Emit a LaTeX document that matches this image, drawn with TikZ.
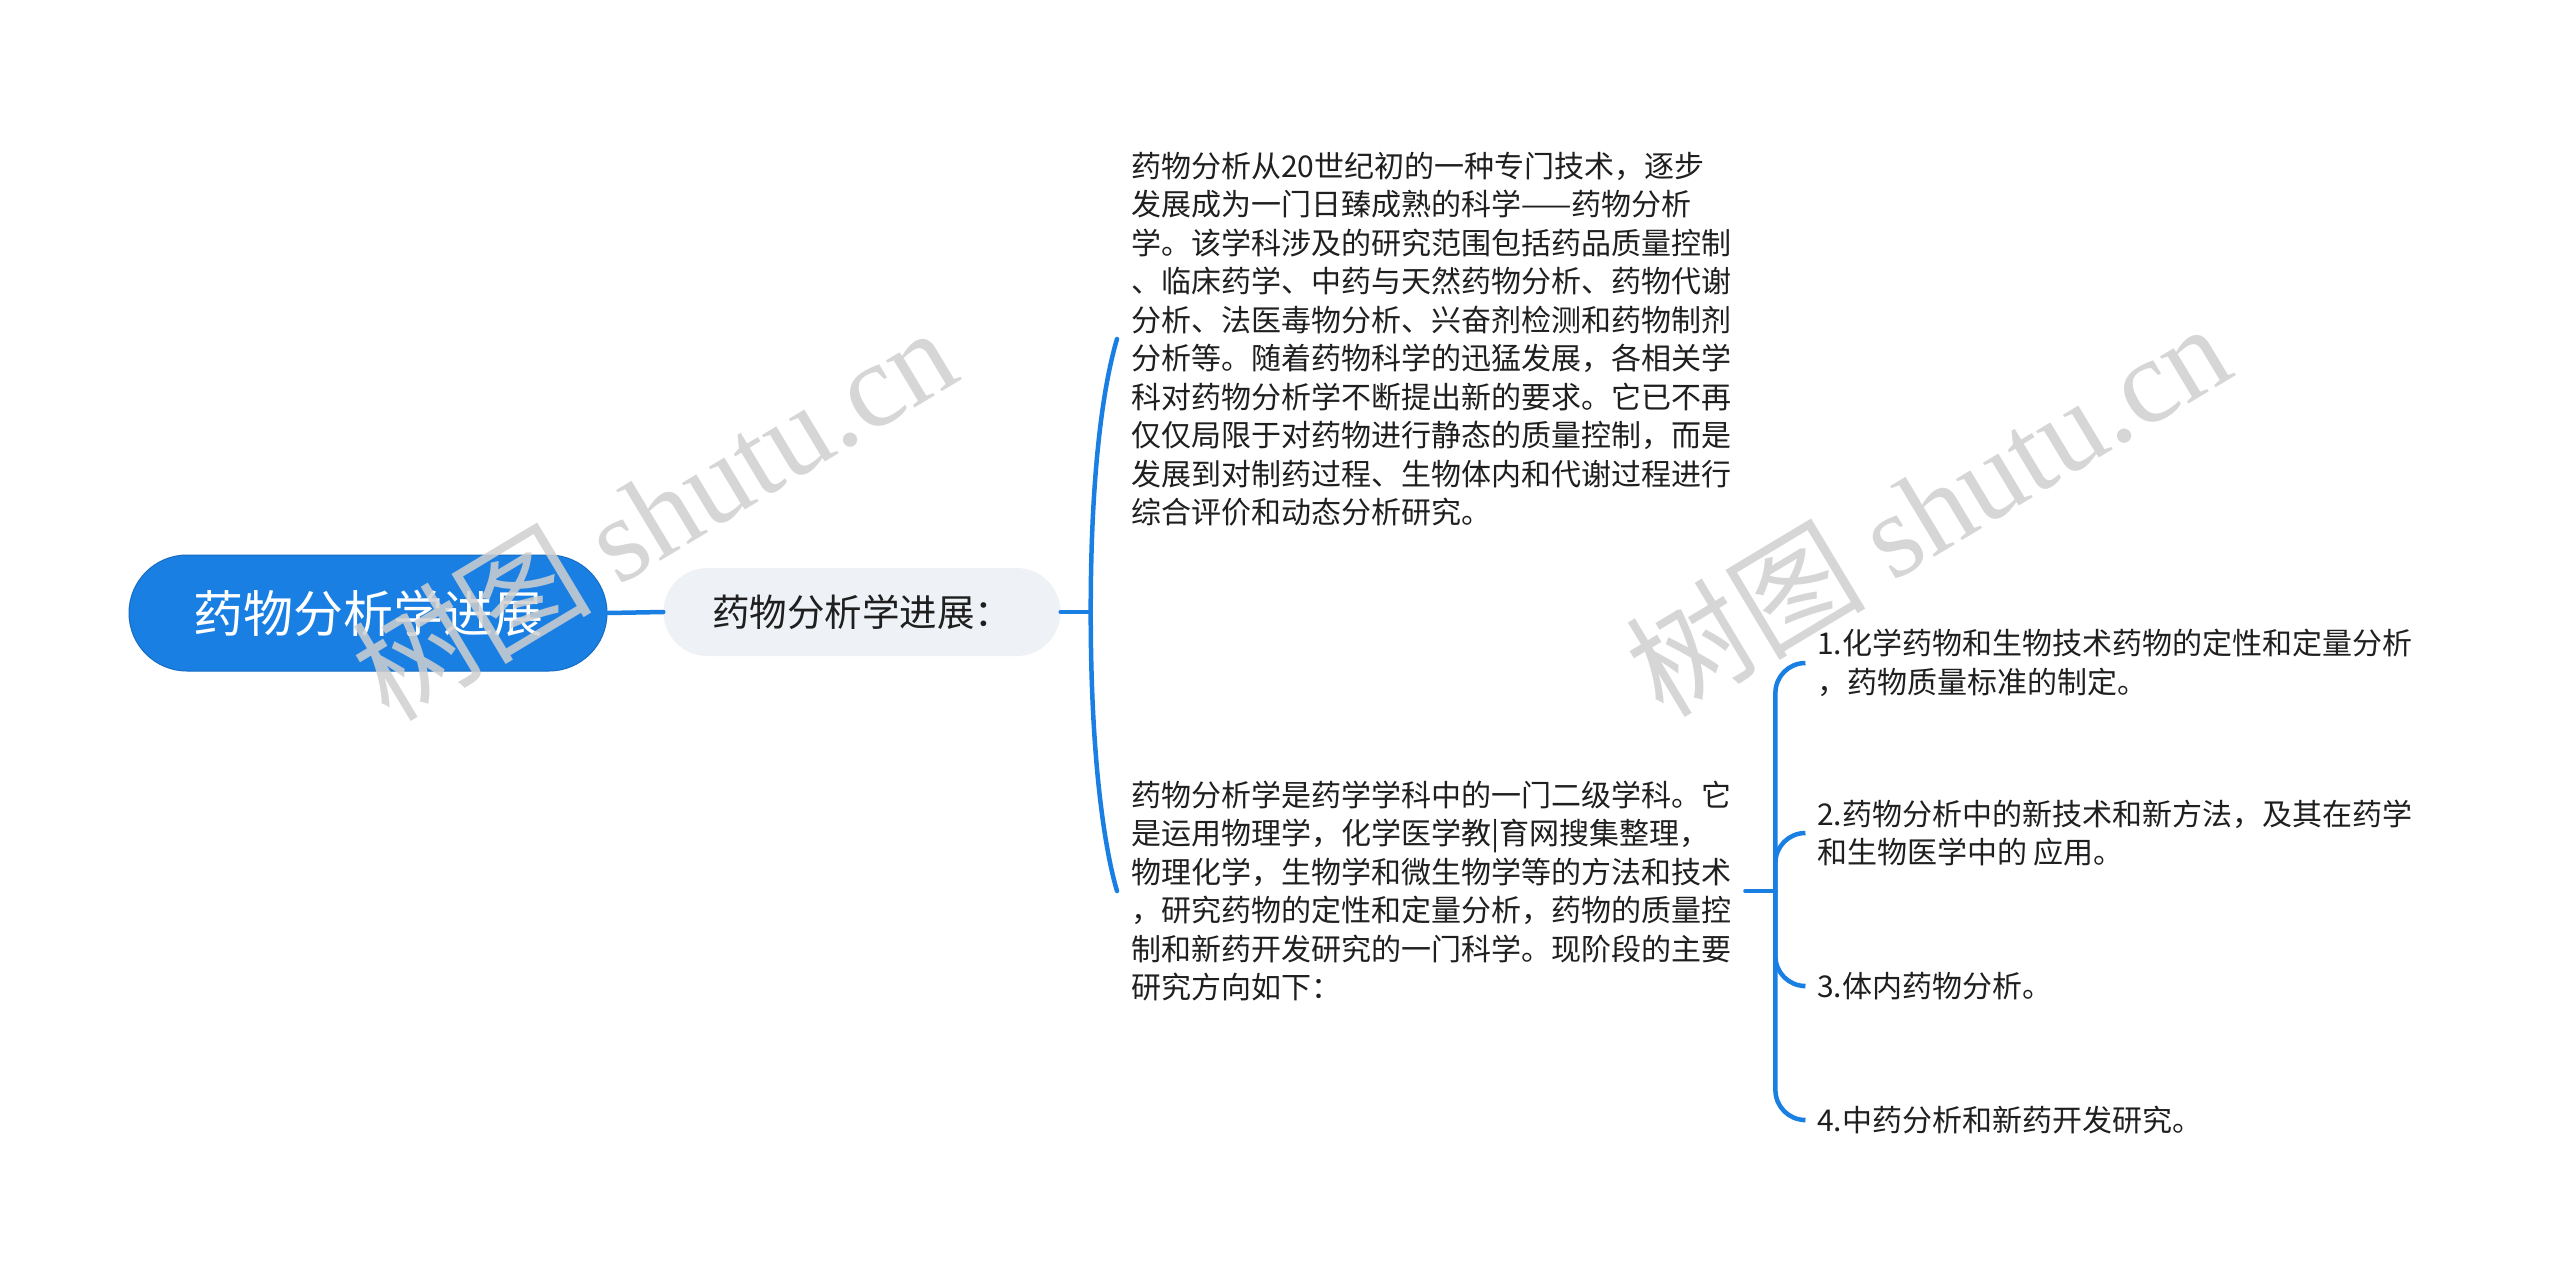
\documentclass[tikz,border=0pt]{standalone}
\usepackage{fontspec}
\setmainfont{Noto Sans CJK SC}
\newfontfamily\wmserif{Liberation Serif}
\usetikzlibrary{calc}
\definecolor{mainblue}{HTML}{1A7FE3}
\definecolor{subgray}{HTML}{EEF1F5}
\definecolor{txt}{HTML}{1F1F1F}
\definecolor{wmgray}{HTML}{CFCFCF}
\tikzset{
  rootbox/.style={fill=mainblue, draw=mainblue!85!black, line width=1pt, text=white,
    minimum width=478pt, minimum height=116pt, rounded corners=58pt,
    font=\fontsize{50}{60}\selectfont, inner sep=0pt},
  subbox/.style={fill=subgray, draw=none, text=txt,
    minimum width=397pt, minimum height=88pt, rounded corners=44pt,
    font=\fontsize{37.5}{44}\selectfont, inner sep=0pt},
  bodytext/.style={anchor=west, align=left, text=txt, inner sep=0pt,
    font=\fontsize{30}{38.5}\selectfont},
  conn/.style={draw=mainblue, line width=4.5pt, rounded corners=30pt, line cap=round},
  curveconn/.style={draw=mainblue, line width=4.5pt, line cap=round},
  wmark/.style={text=wmgray, rotate=31, inner sep=0pt, opacity=0.85},
}
\begin{document}
\begin{tikzpicture}[x=1pt,y=-1pt]
\fill[white] (0,0) rectangle (2560,1280);

% nodes
\node[rootbox] (root) at (368,613) {药物分析学进展};
\node[subbox] (sub) at (862,612) {药物分析学进展：};

\node[bodytext] (c1) at (1131,339) {药物分析从20世纪初的一种专门技术，逐步\\
发展成为一门日臻成熟的科学——药物分析\\
学。该学科涉及的研究范围包括药品质量控制\\
、临床药学、中药与天然药物分析、药物代谢\\
分析、法医毒物分析、兴奋剂检测和药物制剂\\
分析等。随着药物科学的迅猛发展，各相关学\\
科对药物分析学不断提出新的要求。它已不再\\
仅仅局限于对药物进行静态的质量控制，而是\\
发展到对制药过程、生物体内和代谢过程进行\\
综合评价和动态分析研究。};

\node[bodytext] (c2) at (1131,891) {药物分析学是药学学科中的一门二级学科。它\\
是运用物理学，化学医学教|育网搜集整理，\\
物理化学，生物学和微生物学等的方法和技术\\
，研究药物的定性和定量分析，药物的质量控\\
制和新药开发研究的一门科学。现阶段的主要\\
研究方向如下：};

\node[bodytext] (g1) at (1817,663) {1.化学药物和生物技术药物的定性和定量分析\\
，药物质量标准的制定。};
\node[bodytext] (g2) at (1817,833) {2.药物分析中的新技术和新方法，及其在药学\\
和生物医学中的 应用。};
\node[bodytext] (g3) at (1817,986) {3.体内药物分析。};
\node[bodytext] (g4) at (1817,1120) {4.中药分析和新药开发研究。};

% connectors
\draw[conn] (root.east) -- (sub.west);
\draw[conn] (sub.east) -- ++(30,0) coordinate (b1);
\coordinate (c1in) at ($(c1.west)+(-14,0)$);
\coordinate (c2in) at ($(c2.west)+(-14,0)$);
\draw[curveconn] (b1) .. controls ($(b1)+(0,-165)$) and ($(c1in)+(-9,30)$) .. (c1in);
\draw[curveconn] (b1) .. controls ($(b1)+(0,165)$) and ($(c2in)+(-9,-30)$) .. (c2in);

\coordinate (c2out) at ($(c2.east)+(14,0)$);
\draw[conn] (c2out) -- ++(30,0) coordinate (b2);
\draw[conn] ($(g1.west)+(-14,0)$) -| (b2) |- ($(g4.west)+(-14,0)$);
\draw[conn] (b2) |- ($(g2.west)+(-14,0)$);
\draw[conn] (b2) |- ($(g3.west)+(-14,0)$);

% watermarks
\node[wmark] (wm1) at (653,512) {\fontsize{120}{130}\selectfont 树图\ \wmserif shutu.cn};
\node[wmark] (wm2) at (1927,508) {\fontsize{120}{130}\selectfont 树图\ \wmserif shutu.cn};
\end{tikzpicture}
\end{document}
